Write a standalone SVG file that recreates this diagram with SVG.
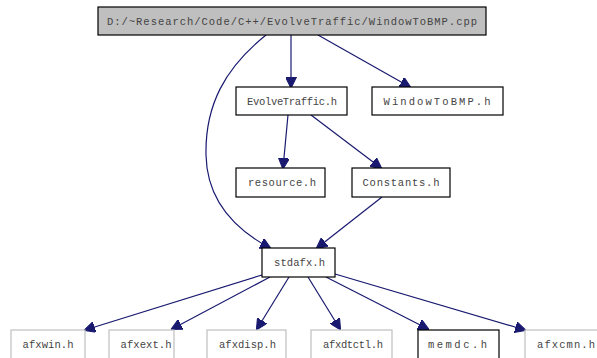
<svg xmlns="http://www.w3.org/2000/svg" width="597" height="358" viewBox="0 0 597 358">
  <style>
    .box { fill: #ffffff; stroke: #000000; stroke-width: 1.2; }
    .root { fill: #bfbfbf; stroke: #000000; stroke-width: 1.2; }
    .ext { fill: #ffffff; stroke: #bfbfbf; stroke-width: 1.2; }
    .lbl { font-family: "Liberation Mono", "DejaVu Sans Mono", monospace; font-size: 10.5px; fill: #444444; text-anchor: middle; }
    .edge { fill: none; stroke: #191970; stroke-width: 1.2; }
  </style>
  <defs>
    <marker id="arrow" viewBox="0 0 10 10" refX="9" refY="5" markerWidth="11" markerHeight="11" markerUnits="userSpaceOnUse" orient="auto">
      <path d="M0,0 L10,5 L0,10 Z" fill="#191970" stroke="#191970"/>
    </marker>
  </defs>
  <rect width="597" height="358" fill="#ffffff"/>

  <g id="edges">
    <path class="edge" marker-end="url(#arrow)" d="M266,35 C225,68 205,105 206,155 C207,205 240,232 270,248"/>
    <path class="edge" marker-end="url(#arrow)" d="M291,35 L291,87"/>
    <path class="edge" marker-end="url(#arrow)" d="M318,35 L410,87"/>
    <path class="edge" marker-end="url(#arrow)" d="M288,115 L283,168"/>
    <path class="edge" marker-end="url(#arrow)" d="M311,115 L381,168"/>
    <path class="edge" marker-end="url(#arrow)" d="M382,197 L317,248"/>
    <path class="edge" marker-end="url(#arrow)" d="M262,275 L85,330"/>
    <path class="edge" marker-end="url(#arrow)" d="M270,277 L172,329"/>
    <path class="edge" marker-end="url(#arrow)" d="M289,277 L257,329"/>
    <path class="edge" marker-end="url(#arrow)" d="M308,277 L340,329"/>
    <path class="edge" marker-end="url(#arrow)" d="M326,277 L428,329"/>
    <path class="edge" marker-end="url(#arrow)" d="M335,274 L525,330"/>
  </g>

  <g id="node-root">
    <rect class="root" x="98" y="7" width="388" height="28"/>
    <text class="lbl" x="292" y="25" textLength="370" lengthAdjust="spacing">D:/~Research/Code/C++/EvolveTraffic/WindowToBMP.cpp</text>
  </g>
  <g id="node-evolvetraffic">
    <rect class="box" x="236" y="87" width="111" height="28"/>
    <text class="lbl" x="292" y="105" textLength="90" lengthAdjust="spacing">EvolveTraffic.h</text>
  </g>
  <g id="node-windowtobmp">
    <rect class="box" x="372" y="87" width="131" height="28"/>
    <text class="lbl" x="437" y="105" textLength="107" lengthAdjust="spacing">WindowToBMP.h</text>
  </g>
  <g id="node-resource">
    <rect class="box" x="236" y="168" width="89" height="29"/>
    <text class="lbl" x="282" y="186" textLength="68" lengthAdjust="spacing">resource.h</text>
  </g>
  <g id="node-constants">
    <rect class="box" x="352" y="168" width="98" height="29"/>
    <text class="lbl" x="401" y="186" textLength="77" lengthAdjust="spacing">Constants.h</text>
  </g>
  <g id="node-stdafx">
    <rect class="box" x="262" y="248" width="73" height="29"/>
    <text class="lbl" x="299.5" y="266" textLength="51" lengthAdjust="spacing">stdafx.h</text>
  </g>
  <g id="node-afxwin">
    <rect class="ext" x="11" y="330" width="74" height="29"/>
    <text class="lbl" x="48" y="348" textLength="51" lengthAdjust="spacing">afxwin.h</text>
  </g>
  <g id="node-afxext">
    <rect class="ext" x="109" y="330" width="65" height="29"/>
    <text class="lbl" x="146" y="348" textLength="51" lengthAdjust="spacing">afxext.h</text>
  </g>
  <g id="node-afxdisp">
    <rect class="ext" x="207" y="330" width="79" height="29"/>
    <text class="lbl" x="247.5" y="348" textLength="57" lengthAdjust="spacing">afxdisp.h</text>
  </g>
  <g id="node-afxdtctl">
    <rect class="ext" x="311" y="330" width="81" height="29"/>
    <text class="lbl" x="353" y="348" textLength="60" lengthAdjust="spacing">afxdtctl.h</text>
  </g>
  <g id="node-memdc">
    <rect class="box" x="418" y="330" width="81" height="29"/>
    <text class="lbl" x="457.5" y="348" textLength="59" lengthAdjust="spacing">memdc.h</text>
  </g>
  <g id="node-afxcmn">
    <rect class="ext" x="525" y="330" width="73" height="29"/>
    <text class="lbl" x="566" y="348" textLength="58" lengthAdjust="spacing">afxcmn.h</text>
  </g>
</svg>
